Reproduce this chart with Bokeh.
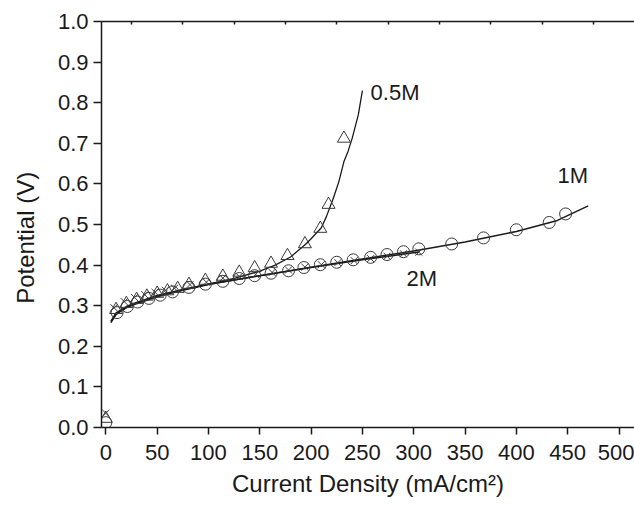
from bokeh.plotting import figure
from bokeh.models import LinearAxis, FixedTicker, Range1d, Label, CustomJSTickFormatter
from bokeh.embed import file_html
from bokeh.resources import INLINE

# ---- data ----
# 1M (open circles)
x_1m = [0, 11, 21, 31, 42, 53, 65, 81, 97, 114, 130, 145, 161, 178, 193, 209,
        225, 241, 258, 274, 290, 305, 337, 368, 400, 432, 448]
y_1m = [0.012, 0.283, 0.298, 0.309, 0.318, 0.326, 0.334, 0.345, 0.353, 0.360,
        0.367, 0.374, 0.380, 0.386, 0.394, 0.401, 0.407, 0.413, 0.419, 0.426,
        0.433, 0.440, 0.452, 0.467, 0.487, 0.505, 0.526]

# 2M (crosses)
x_2m = [0, 8, 18, 28, 38, 48, 58, 67, 82, 98, 114, 130, 146, 162, 178, 194,
        210, 226, 242, 258, 274, 290, 305]
y_2m = [0.035, 0.295, 0.310, 0.320, 0.327, 0.333, 0.338, 0.343, 0.352, 0.358,
        0.368, 0.372, 0.377, 0.382, 0.388, 0.395, 0.401, 0.406, 0.411, 0.416,
        0.422, 0.428, 0.432]

# 0.5M (open triangles)
x_05m = [0, 10, 20, 30, 40, 50, 60, 70, 81, 97, 114, 130, 145, 161, 177, 194,
         209, 217, 232]
y_05m = [0.022, 0.290, 0.305, 0.315, 0.323, 0.330, 0.336, 0.342, 0.352, 0.362,
         0.372, 0.382, 0.393, 0.404, 0.423, 0.452, 0.490, 0.549, 0.712]

# fitted curves
fx_1m = [5, 10, 20, 30, 50, 75, 100, 150, 200, 250, 300, 350, 400, 440, 470]
fy_1m = [0.260, 0.280, 0.295, 0.305, 0.322, 0.338, 0.352, 0.374, 0.395, 0.415,
         0.435, 0.457, 0.483, 0.510, 0.546]

fx_2m = [5, 10, 20, 30, 50, 75, 100, 150, 200, 250, 305]
fy_2m = [0.262, 0.282, 0.298, 0.308, 0.325, 0.340, 0.353, 0.374, 0.394, 0.413, 0.432]

fx_05m = [5, 10, 20, 30, 50, 75, 100, 125, 150, 165, 180, 195, 200, 210, 215,
          222, 227, 232, 236, 240, 246, 250]
fy_05m = [0.258, 0.278, 0.296, 0.307, 0.323, 0.339, 0.353, 0.367, 0.385, 0.400,
          0.420, 0.452, 0.465, 0.492, 0.520, 0.567, 0.605, 0.655, 0.680, 0.712,
          0.770, 0.830]

x_ticks = [0, 50, 100, 150, 200, 250, 300, 350, 400, 450, 500]
top_ticks = [25, 75, 125, 175, 225, 275, 325, 375, 425, 475]
y_ticks = [0.0, 0.1, 0.2, 0.3, 0.4, 0.5, 0.6, 0.7, 0.8, 0.9, 1.0]

labels = ["0.5M", "1M", "2M"]
label_x = [258, 440, 293]
label_y = [0.825, 0.620, 0.366]

FONT = "Liberation Sans"
INK = "#1a1a1a"
MK = "#3a3a3a"

p = figure(width=634, height=508, output_backend="svg", toolbar_location=None,
           x_range=Range1d(-4.2, 515.1), y_range=Range1d(0, 1.0),
           min_border_left=101, min_border_right=0, min_border_top=21,
           min_border_bottom=81, outline_line_color=None,
           background_fill_color="white", border_fill_color="white")
p.grid.visible = False

for ax in (p.xaxis[0], p.yaxis[0]):
    ax.axis_line_color = INK
    ax.axis_line_width = 1.5
    ax.major_tick_line_color = INK
    ax.major_tick_line_width = 1.5
    ax.major_tick_in = 0
    ax.major_tick_out = 7
    ax.minor_tick_line_color = None
    ax.major_label_text_font = FONT
    ax.major_label_text_font_size = "22px"
    ax.major_label_text_color = INK
    ax.axis_label_text_font = FONT
    ax.axis_label_text_font_size = "24px"
    ax.axis_label_text_font_style = "normal"
    ax.axis_label_text_color = INK

p.xaxis[0].ticker = FixedTicker(ticks=x_ticks)
p.yaxis[0].ticker = FixedTicker(ticks=y_ticks)
p.yaxis[0].major_tick_out = 8
p.xaxis[0].major_label_standoff = 10
p.yaxis[0].major_label_standoff = 5
p.xaxis[0].axis_label = "Current Density (mA/cm\u00b2)"
p.xaxis[0].axis_label_standoff = 7
# trailing no-break spaces nudge the centred title slightly downwards, as in the reference
p.yaxis[0].axis_label = "Potential (V)" + "\u00a0" * 4
p.yaxis[0].axis_label_standoff = 16
p.yaxis[0].formatter = CustomJSTickFormatter(code="return tick.toFixed(1);")

top = LinearAxis(ticker=FixedTicker(ticks=top_ticks), axis_line_color=INK,
                 axis_line_width=1.5, major_tick_line_color=INK,
                 major_tick_line_width=1.5, major_tick_in=3, major_tick_out=0,
                 minor_tick_line_color=None, major_label_standoff=0,
                 formatter=CustomJSTickFormatter(code="return '';"))
p.add_layout(top, "above")

# fitted lines
p.line(fx_1m, fy_1m, line_color=INK, line_width=1.5)
p.line(fx_2m, fy_2m, line_color=INK, line_width=1.5)
p.line(fx_05m, fy_05m, line_color=INK, line_width=1.3)

# markers
p.scatter(x_1m, y_1m, marker="circle", size=12, fill_color=None,
          line_color=MK, line_width=1)
p.scatter(x_2m, y_2m, marker="x", size=10, line_color=MK, line_width=1)
p.scatter(x_05m, y_05m, marker="triangle", size=13, fill_color=None,
          line_color=MK, line_width=1)

for t, lx, ly in zip(labels, label_x, label_y):
    p.add_layout(Label(x=lx, y=ly, text=t, text_font=FONT, text_font_size="22px",
                       text_color=INK, text_baseline="middle", text_align="left"))

open("out.html", "w").write(file_html(p, INLINE))
